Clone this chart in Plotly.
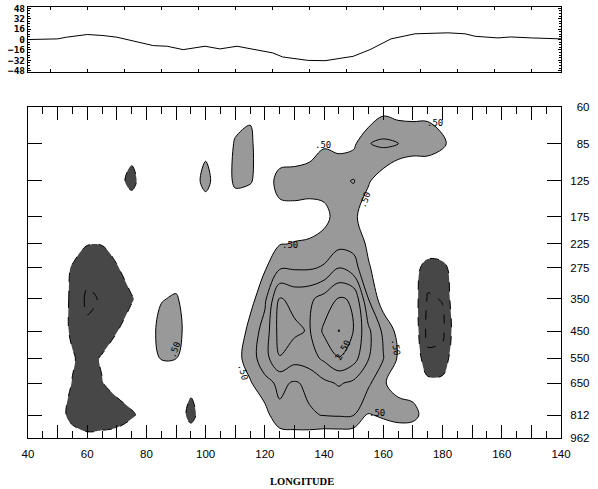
import plotly.graph_objects as go

# ---------------- data ----------------
# top panel curve (longitude in degrees east, 40E .. 180 .. 140W = 220E)
top_lon = [40, 50, 53, 60, 65.3, 70, 74.4, 76.8, 82.3, 87, 92.4, 99.8, 104.8, 110.6, 117.3,
           122.7, 126, 131, 134.5, 140.3, 149.8, 155.5, 162.6, 170.7, 176, 181.8, 187.6,
           191, 198.7, 203, 210, 220]
top_val = [0, 1, 3.6, 7.7, 6.2, 3.6, -1, -3.5, -9.3, -10.3, -15.5, -10.3, -14.4, -10.3, -15.5,
           -20.6, -26.8, -29.5, -32, -32.5, -25.8, -15.5, 1, 8.8, 10, 10.3, 8.8,
           5, 2.5, 4, 2.5, 1]
top_yticks = [-48, -32, -16, 0, 16, 32, 48]

# main panel grid
grid_lon = [40, 45, 50, 55, 60, 65, 70, 75, 80, 85, 90, 95, 100, 105, 110, 115, 120, 125, 130,
            135, 140, 145, 150, 155, 160, 165, 170, 175, 180, 185, 190, 195, 200, 205, 210, 215, 220]
levels = [60, 85, 125, 175, 225, 275, 350, 450, 550, 650, 812, 962]
level_pos = [0, 36.5, 74, 109.5, 137, 161, 192, 224, 251, 276, 308, 331]  # vertical axis position of each level

#            40  45  50    55    60    65    70    75    80   85   90   95    100   105  110  115  120  125   130   135   140   145   150   155   160   165   170   175   180   185  190 195 200 205 210 215 220
row_60  = [0,  0,  0,    0,    0,    0,    0,    0,    0,   0,   0,   0,    0,    0,   0,   0.3, 0,   0,    0,    0,    0.1,  0,    0,    -0.1, 0.3,  0.2,  0.3,  0.3,  0.2,  0,   0, 0, 0, 0, 0, 0, 0]
row_85  = [0,  0,  0,    0,    0,    0,    0,    -0.15,0,   0,   0,   0,    0.23, -0.3,0.6, 0.7, -0.3,0.1,  0.1,  0.3,  0.45, 0.35, 0.4,  0.98, 1.1,  1.02, 0.8,  0.8,  0.6,  0.2, 0, 0, 0, 0, 0, 0, 0]
row_125 = [0,  0,  0,    0,    0,    0,    -0.2, -0.75,0,   0,   0,   0,    0.8,  -0.1,0.65,0.55,0.2, 0.7,  0.75, 0.7,  0.8,  0.9,  1.03, 0.55, 0.2,  -0.2, -0.1, -0.1, -0.1, 0,   0, 0, 0, 0, 0, 0, 0]
row_175 = [0,  0,  0,    0,    0,    0,    0,    0.2,  0,   0,   0,   0,    -0.2, 0,   -0.1,0,   0.2, 0.3,  0.3,  0.3,  0.3,  0.8,  0.6,  0.2,  0,    0,    0,    0,    0,    0,   0, 0, 0, 0, 0, 0, 0]
row_225 = [0,  0,  0,    -0.25,-0.48,-0.48,-0.25,0,    0,   0,   0,   0,    0,    0,   0,   0,   0.1, 0.48, 0.52, 0.55, 0.75, 0.85, 0.85, 0.4,  0,    0,    0,    0,    0,    0,   0, 0, 0, 0, 0, 0, 0]
row_275 = [0,  0,  -0.2, -0.55,-0.8, -0.8, -0.55,-0.2, 0,   0,   0.02,0,    0,    0,   0,   0,   0.45,0.95, 0.95, 0.95, 1.05, 1.5,  1.2,  0.55, 0.2,  0,    -0.2, -0.8, -0.7, -0.1,0, 0, 0, 0, 0, 0, 0]
row_350 = [0,  0,  -0.2, -0.6, -1.1, -0.95,-0.8, -0.55,-0.2,0.45,0.6, 0,    0,    0,   -0.1,0.3, 0.9, 2.05, 1.85, 1.9,  2.2,  2.55, 2.45, 1.0,  0.2,  0,    -0.2, -1.05,-0.98,0,   0, 0, 0, 0, 0, 0, 0]
row_450 = [0,  0,  -0.2, -0.6, -0.9, -0.8, -0.52,-0.2, 0,   0.8, 0.85,0,    0,    0,   0,   0.7, 1.2, 2.2,  2.1,  1.95, 2.6,  3.02, 2.48, 1.6,  0.9,  0.35, -0.1, -1.15,-1.1, -0.1,0, 0, 0, 0, 0, 0, 0]
row_550 = [0,  0,  -0.2, -0.45,-0.7, -0.45,-0.2, 0,    0,   0.55,0.52,0,    0,    -0.1,0.3, 0.75,1.3, 1.98, 1.7,  1.8,  2.1,  2.48, 2.2,  1.52, 1.02, 0.45, 0,    -0.9, -0.85,0,   0, 0, 0, 0, 0, 0, 0]
row_650 = [0,  0,  -0.2, -0.52,-0.75,-0.52,-0.3, 0,    0,   0,   0,   -0.34,0,    0,   0,   0.45,0.85,1.1,  0.95, 1.1,  1.4,  1.55, 1.4,  1.1,  0.55, 0.3,  0.2,  -0.35,-0.35,0,   0, 0, 0, 0, 0, 0, 0]
row_812 = [0,  0,  -0.3, -0.65,-0.9, -0.8, -0.75,-0.6, -0.2,0,   -0.1,-0.7, -0.1, 0,   0,   -0.1,0.3, 0.9,  0.85, 0.95, 1.02, 1.05, 1.01, 0.45, 0.6,  0.75, 0.7,  0.2,  0,    0,   0, 0, 0, 0, 0, 0, 0]
row_962 = [0,  0,  0,    -0.3, -0.35,-0.35,-0.3, 0,    0,   0,   0,   -0.13,0,    0,   0,   0,   -0.1,0.2,  0.3,  0.25, 0.15, 0.15, 0.1,  0,    0,    0,    0,    0,    0,    0,   0, 0, 0, 0, 0, 0, 0]

x_tick_vals = [40, 50, 60, 70, 80, 90, 100, 110, 120, 130, 140, 150, 160, 170, 180, 190, 200, 210, 220]
x_tick_text = ["40", "", "60", "", "80", "", "100", "", "120", "", "140", "", "160", "", "180", "", "160", "", "140"]

z = [row_60, row_85, row_125, row_175, row_225, row_275, row_350, row_450, row_550, row_650, row_812, row_962]

LIGHT = "#999999"
DARK = "#474747"

fig = go.Figure()

# top panel line
fig.add_trace(go.Scatter(x=top_lon, y=top_val, mode="lines", line=dict(color="black", width=1),
                         xaxis="x", yaxis="y", showlegend=False, hoverinfo="skip"))

# filled regions (constraint contours shade the region outside the constraint)
fig.add_trace(go.Contour(x=grid_lon, y=level_pos, z=z, xaxis="x2", yaxis="y2",
                         contours=dict(type="constraint", operation="<", value=0.5),
                         fillcolor=LIGHT, line=dict(color="black", width=1, smoothing=1),
                         showscale=False, hoverinfo="skip"))
fig.add_trace(go.Contour(x=grid_lon, y=level_pos, z=z, xaxis="x2", yaxis="y2",
                         contours=dict(type="constraint", operation=">", value=-0.5),
                         fillcolor=DARK, line=dict(color="black", width=1, dash="dash", smoothing=1),
                         showscale=False, hoverinfo="skip"))
# inner contour lines
fig.add_trace(go.Contour(x=grid_lon, y=level_pos, z=z, xaxis="x2", yaxis="y2",
                         contours=dict(coloring="none", start=1.0, end=3.0, size=0.5),
                         line=dict(color="black", width=1, smoothing=1),
                         showscale=False, hoverinfo="skip"))
fig.add_trace(go.Contour(x=grid_lon, y=level_pos, z=z, xaxis="x2", yaxis="y2",
                         contours=dict(coloring="none", start=-3.0, end=-1.0, size=0.5),
                         line=dict(color="black", width=1, dash="dash", smoothing=1),
                         showscale=False, hoverinfo="skip"))

# contour labels
lab_font = dict(family="DejaVu Sans Mono", size=9, color="black")
labels = [
    (".50", 139.6, 38, 0), (".50", 177.5, 16, 0), (".50", 128.5, 138, 0),
    (".50", 153.8, 93, -70), (".50", 89.6, 243, -70), (".50", 112.6, 265, 75),
    (".50", 164.2, 240, 80), (".50", 157.9, 306, 0), ("2.50", 146.4, 243, -60),
]
for txt, lx, ly, ang in labels:
    fig.add_annotation(text=txt, x=lx, y=ly, xref="x2", yref="y2", showarrow=False,
                       textangle=ang, font=lab_font)

fig.add_annotation(text="<b>LONGITUDE</b>", x=0.514, y=-0.1, xref="paper", yref="paper",
                   xanchor="center", yanchor="middle", showarrow=False,
                   font=dict(family="Liberation Serif", size=10.5, color="black"))

fig_space = "\u2007"
y_tick_text = [fig_space * (3 - len(str(v))) + str(v) for v in levels]

tick_font = dict(family="Liberation Sans", size=11.5, color="black")

fig.update_layout(
    width=598, height=489,
    margin=dict(l=28, r=37, t=7, b=51, autoexpand=False),
    paper_bgcolor="white", plot_bgcolor="white",
    showlegend=False,
    xaxis=dict(domain=[0, 1], anchor="y", range=[40, 220], tick0=47.5, dtick=12.5,
               ticks="inside", ticklen=3, tickcolor="black", showticklabels=False,
               showline=True, linecolor="black", linewidth=1, mirror="ticks",
               showgrid=False, zeroline=False, automargin=False),
    yaxis=dict(domain=[0.849, 1], anchor="x", range=[-50, 50], tickvals=top_yticks,
               ticks="inside", ticklen=3, tickcolor="black",
               minor=dict(dtick=4, ticks="inside", ticklen=2, tickcolor="black"),
               tickfont=dict(family="DejaVu Sans Mono", size=9.5, color="black", weight="bold"),
               ticklabelstandoff=0, ticklabeloverflow="allow",
               showline=True, linecolor="black", linewidth=1, mirror="ticks",
               showgrid=False, zeroline=False, automargin=False),
    xaxis2=dict(domain=[0, 1], anchor="y2", range=[40, 220], tickvals=x_tick_vals,
                ticktext=x_tick_text, ticks="inside", ticklen=13, tickcolor="black",
                minor=dict(tickvals=list(range(45, 220, 10)), ticks="inside", ticklen=7,
                           tickcolor="black"),
                tickfont=tick_font, ticklabelstandoff=5,
                showline=True, linecolor="black", linewidth=1, mirror="ticks",
                showgrid=False, zeroline=False, automargin=False),
    yaxis2=dict(domain=[0, 0.768], anchor="x2", side="right", range=[331, 0],
                tickvals=level_pos, ticktext=y_tick_text, ticks="inside", ticklen=14,
                tickcolor="black", tickfont=tick_font, ticklabelstandoff=6,
                showline=True, linecolor="black", linewidth=1, mirror="ticks",
                showgrid=False, zeroline=False, automargin=False),
)

# remove the default page margin so the figure sits at the window's top-left corner
fig.write_html("out.html", config={"displayModeBar": False},
               post_script="document.body.style.margin='0px';")
